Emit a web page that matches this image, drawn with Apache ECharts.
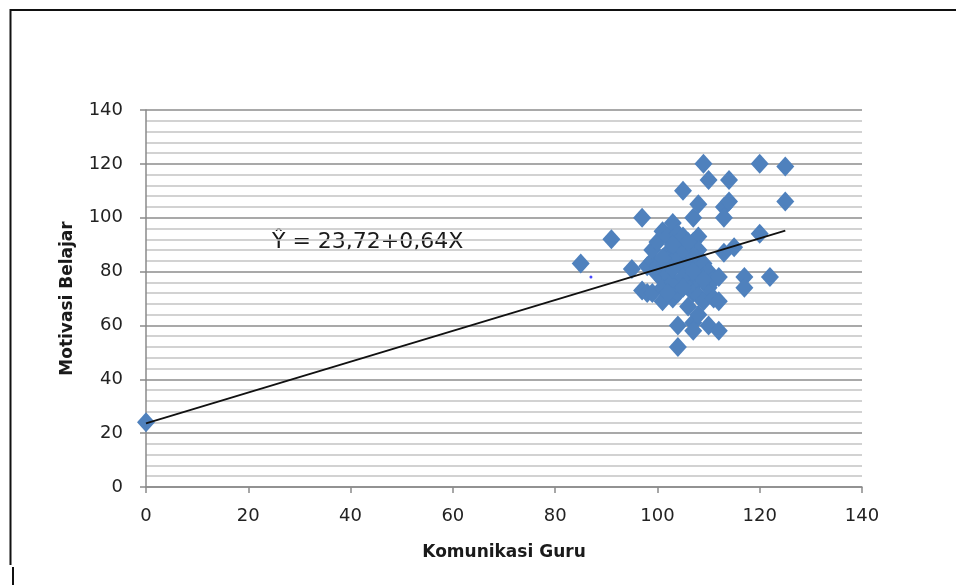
<!DOCTYPE html>
<html>
<head>
<meta charset="utf-8">
<script src="https://cdn.jsdelivr.net/npm/echarts@6/dist/echarts.min.js"></script>
<style>
html,body{margin:0;padding:0;background:#fff;}
#chart{width:956px;height:585px;}
</style>
</head>
<body>
<div id="chart"></div>
<script>
// Data
var komunikasiGuru = [0,85,91,95,97,97,98,98,99,99,99,100,100,100,101,101,101,101,102,102,102,103,103,103,103,104,104,104,104,104,104,105,105,105,106,106,106,106,107,107,107,107,107,108,108,108,108,108,108,108,109,109,109,110,110,110,110,111,111,112,112,112,113,113,113,114,114,115,117,117,120,120,122,125,125,102,103,104,105,106,107,105,106,103,101,107,109,105,102];
var motivasiBelajar = [24,83,92,81,100,73,82,72,84,88,72,91,82,79,95,77,74,69,87,93,79,98,86,70,76,94,89,83,72,60,52,110,93,81,88,80,75,67,100,91,72,61,58,105,93,88,82,77,71,64,120,83,69,114,80,74,60,77,70,78,69,58,104,100,87,114,106,89,78,74,120,94,78,119,106,84,81,86,78,84,86,88,91,90,85,80,77,74,72];
var extraDotX = [87];
var extraDotY = [78];
var trendX = [0,125];
var trendY = [23.6,95.2];
var xTicks = [0,20,40,60,80,100,120,140];
var yTicks = [0,20,40,60,80,100,120,140];
var equationText = 'Ŷ = 23,72+0,64X';
var xTitle = 'Komunikasi Guru';
var yTitle = 'Motivasi Belajar';

var scatterData = komunikasiGuru.map(function(x,i){return [x, motivasiBelajar[i]];});
var dotData = extraDotX.map(function(x,i){return [x, extraDotY[i]];});
var lineData = trendX.map(function(x,i){return [x, trendY[i]];});

var chart = echarts.init(document.getElementById('chart'), null, {renderer:'canvas'});
var font = 'DejaVu Sans';
chart.setOption({
  animation:false,
  backgroundColor:'#ffffff',
  textStyle:{fontFamily:font},
  grid:{left:146,right:94,top:110,bottom:98,containLabel:false},
  xAxis:{
    type:'value', min:xTicks[0], max:xTicks[xTicks.length-1], interval:xTicks[1]-xTicks[0],
    name:xTitle, nameLocation:'middle', nameGap:57,
    nameTextStyle:{fontFamily:font,fontWeight:'bold',fontSize:17,color:'#1a1a1a'},
    axisLine:{show:true,lineStyle:{color:'#8a8a8a',width:1.5}},
    axisTick:{show:true,length:6,lineStyle:{color:'#8a8a8a',width:1.5}},
    axisLabel:{margin:20,fontSize:18,color:'#222',fontFamily:font},
    splitLine:{show:false}
  },
  yAxis:{
    type:'value', min:yTicks[0], max:yTicks[yTicks.length-1], interval:yTicks[1]-yTicks[0],
    name:yTitle, nameLocation:'middle', nameGap:70, nameRotate:90,
    nameTextStyle:{fontFamily:font,fontWeight:'bold',fontSize:17,color:'#1a1a1a'},
    axisLine:{show:true,lineStyle:{color:'#8a8a8a',width:1.5}},
    axisTick:{show:true,length:6,lineStyle:{color:'#8a8a8a',width:1.5}},
    axisLabel:{margin:23,fontSize:18,color:'#222',fontFamily:font},
    splitLine:{show:true,lineStyle:{color:'#8c8c8c',width:1.5}},
    minorTick:{show:false,splitNumber:5},
    minorSplitLine:{show:true,lineStyle:{color:'#c4c4c4',width:1.5}}
  },
  series:[
    {
      type:'scatter', data:scatterData, symbol:'diamond', symbolSize:[18,20],
      itemStyle:{color:'#4f81bd',opacity:1}, z:3
    },
    {
      type:'scatter', data:dotData, symbol:'circle', symbolSize:3,
      itemStyle:{color:'#1a1aff'}, z:4
    },
    {
      type:'line', data:lineData, showSymbol:false, symbol:'none',
      lineStyle:{color:'#111',width:1.8}, z:5, silent:true
    }
  ],
  graphic:[
    {type:'polyline', shape:{points:[[10.5,565],[10.5,10],[960,10]]}, style:{stroke:'#111',lineWidth:2,fill:null}},
    {type:'line', shape:{x1:13,y1:567,x2:13,y2:585}, style:{stroke:'#111',lineWidth:2}},
    {type:'text', left:272, top:231, style:{text:equationText, font:'22px "DejaVu Sans"', fill:'#1a1a1a'}}
  ]
});
</script>
</body>
</html>
